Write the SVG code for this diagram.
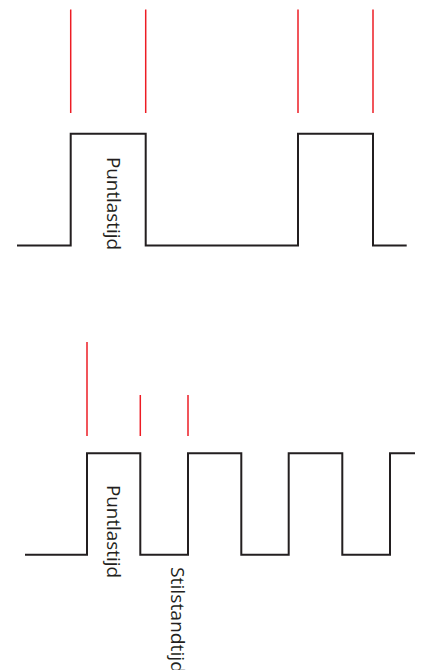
<svg xmlns="http://www.w3.org/2000/svg" width="422" height="670" viewBox="0 0 422 670">
<style>
.red{stroke:#ed1c24;stroke-width:1.5;fill:none}
.wave{stroke:#231f20;stroke-width:2;fill:none;stroke-linejoin:miter}
.lbl{font-family:"Open Sans","Liberation Sans",sans-serif;font-size:18.5px;fill:#231f20}
</style>
<rect width="422" height="670" fill="#ffffff"/>
<g id="top-diagram">
  <g id="top-markers">
    <line class="red" x1="70.7" y1="9.5" x2="70.7" y2="113"/>
    <line class="red" x1="145.7" y1="9.5" x2="145.7" y2="113"/>
    <line class="red" x1="298" y1="9.5" x2="298" y2="113"/>
    <line class="red" x1="373" y1="9.5" x2="373" y2="113"/>
  </g>
  <g id="top-wave">
    <path class="wave" d="M17 245.5 H70.7 V133.7 H145.7 V245.5 H298 V133.7 H373 V245.5 H406.7"/>
  </g>
  <g id="top-label">
    <text class="lbl" transform="translate(106.5,157) rotate(90)" textLength="93" lengthAdjust="spacingAndGlyphs">Puntlastijd</text>
  </g>
</g>
<g id="bottom-diagram">
  <g id="bottom-markers">
    <line class="red" x1="87" y1="342" x2="87" y2="436"/>
    <line class="red" x1="140.3" y1="395" x2="140.3" y2="436"/>
    <line class="red" x1="188" y1="395" x2="188" y2="436"/>
  </g>
  <g id="bottom-wave">
    <path class="wave" d="M25 554.7 H87 V453.3 H140.3 V554.7 H188 V453.3 H241.3 V554.7 H288.7 V453.3 H342.3 V554.7 H390 V453.3 H415"/>
  </g>
  <g id="bottom-label-1">
    <text class="lbl" transform="translate(106.5,485) rotate(90)" textLength="93" lengthAdjust="spacingAndGlyphs">Puntlastijd</text>
  </g>
  <g id="bottom-label-2">
    <text class="lbl" transform="translate(170.5,567) rotate(90)" textLength="106" lengthAdjust="spacingAndGlyphs">Stilstandtijd</text>
  </g>
</g>
</svg>
